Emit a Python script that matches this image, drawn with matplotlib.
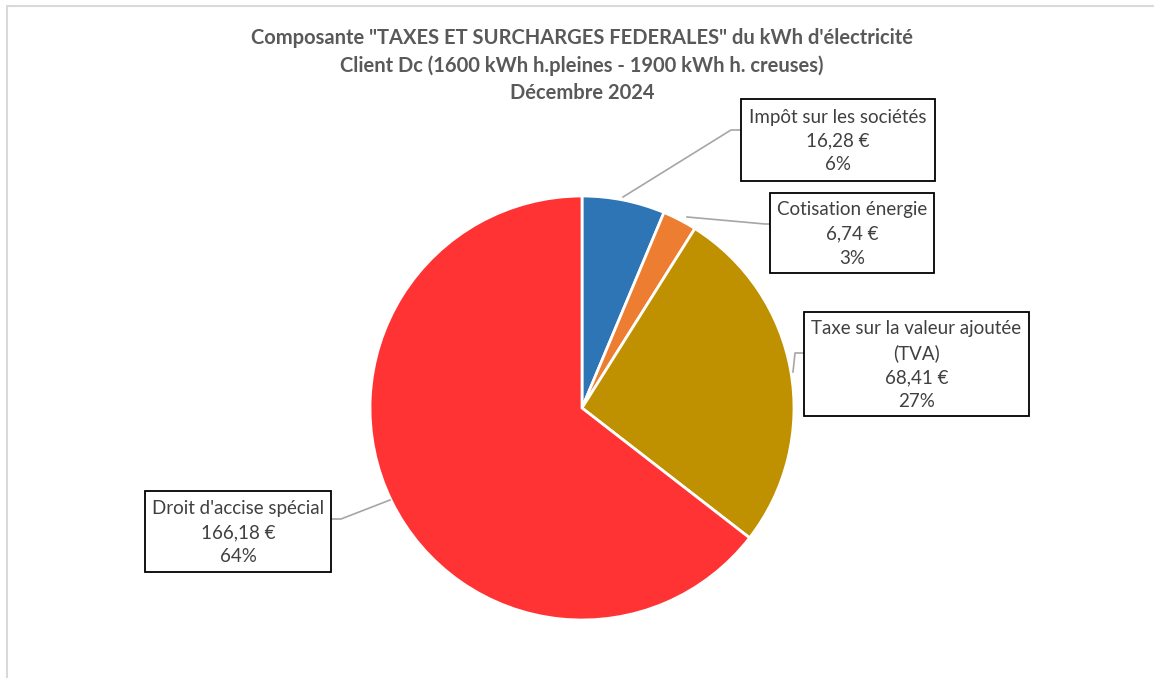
import matplotlib.pyplot as plt
from matplotlib.patches import Rectangle

plt.rcParams['font.family'] = ['Lato', 'DejaVu Sans']

# Data
labels = ['Impôt sur les sociétés', 'Cotisation énergie',
          'Taxe sur la valeur ajoutée\n(TVA)', "Droit d'accise spécial"]
values = [16.28, 6.74, 68.41, 166.18]
value_text = ['16,28 €', '6,74 €', '68,41 €', '166,18 €']
pct_text = ['6%', '3%', '27%', '64%']
colors = ['#2E75B6', '#ED7D31', '#BF9000', '#FF3333']

W, H = 1154, 678
fig = plt.figure(figsize=(W / 100, H / 100), dpi=100)
ax = fig.add_axes([0, 0, 1, 1])

def Y(y):
    return H - y

# pie
cx, cy, r = 582, 408, 212
ax.pie(values, colors=colors, startangle=90, counterclock=False,
       center=(cx, Y(cy)), radius=r, frame=True,
       wedgeprops=dict(edgecolor='white', linewidth=2))
ax.set_xlim(0, W)
ax.set_ylim(0, H)
ax.set_aspect('equal')
ax.axis('off')

# chart border
ax.plot([7, 7, W + 5], [Y(H + 5), Y(6), Y(6)], color='#D9D9D9', lw=1.5,
        solid_capstyle='butt')

# title
title_lines = ['Composante "TAXES ET SURCHARGES FEDERALES" du kWh d\'électricité',
               'Client Dc (1600 kWh h.pleines - 1900 kWh h. creuses)',
               'Décembre 2024']
for i, t in enumerate(title_lines):
    ax.text(582, Y(38 + i * 27.5), t, ha='center', va='center',
            fontsize=14.5, fontweight='bold', color='#595959')

# label boxes (x0, y0, x1, y1) in pixels
boxes = [(741, 99, 935, 181), (770, 193, 934, 273),
         (804, 312, 1029, 416), (145, 491, 331, 572)]
leaders = [[(623, 197), (731, 130), (741, 130)],
           [(687, 217), (765, 224), (770, 224)],
           [(793, 372), (795, 353), (804, 353)],
           [(390, 500), (341, 519), (331, 519)]]

for i in range(len(values)):
    x0, y0, x1, y1 = boxes[i]
    ax.add_patch(Rectangle((x0, Y(y1)), x1 - x0, y1 - y0, facecolor='white',
                           edgecolor='black', lw=1.3, zorder=3))
    txt = labels[i] + '\n' + value_text[i] + '\n' + pct_text[i]
    ax.text((x0 + x1) / 2, Y((y0 + y1) / 2 + 1), txt, ha='center', va='center',
            fontsize=13.5, color='#404040', linespacing=1.5, zorder=4)
    xs = [p[0] for p in leaders[i]]
    ys = [Y(p[1]) for p in leaders[i]]
    ax.plot(xs, ys, color='#A6A6A6', lw=1.2, zorder=2)

fig.savefig('out.png', dpi=100)
